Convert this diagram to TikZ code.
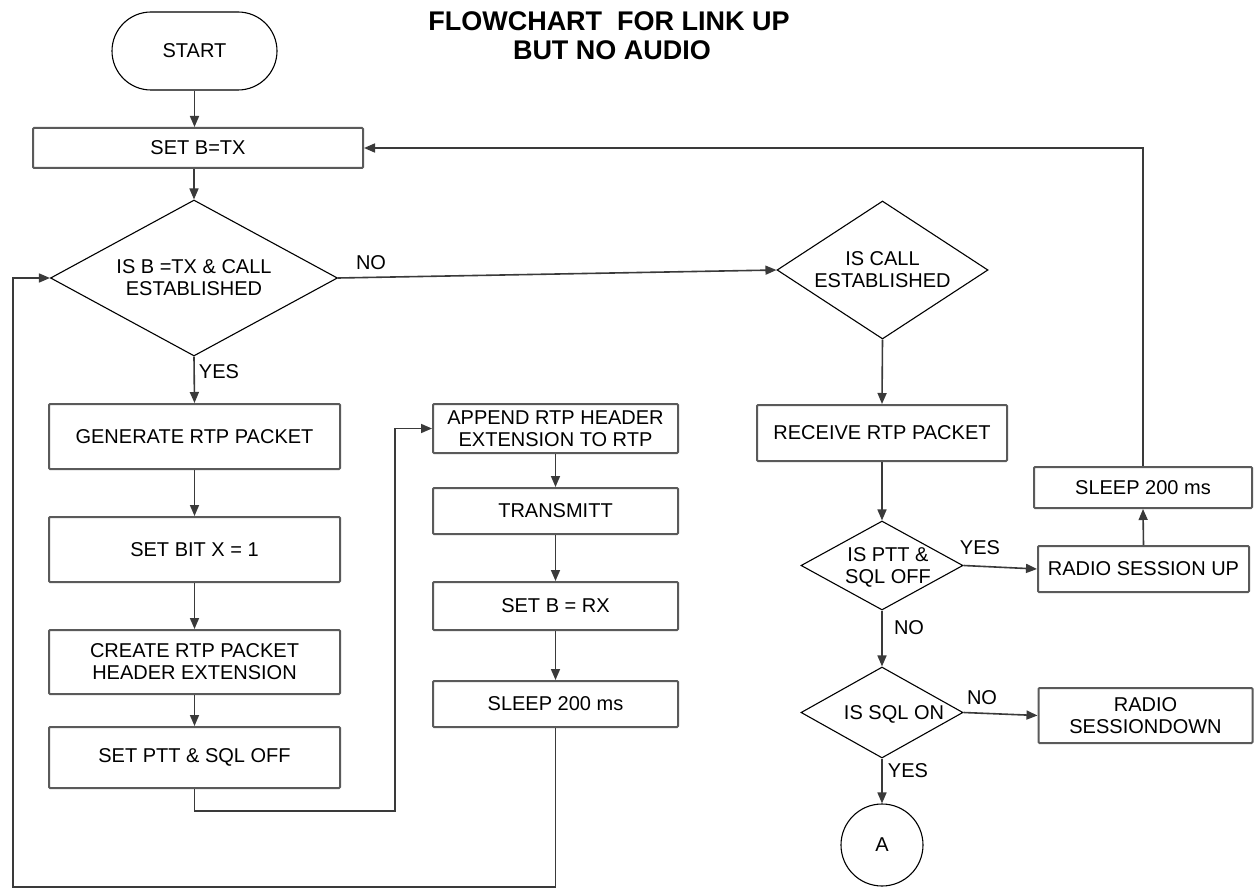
\documentclass[tikz,border=0pt]{standalone}
\usepackage{fontspec}
\setmainfont{Liberation Sans}
\usetikzlibrary{shapes.geometric,shapes.misc,arrows.meta}
\definecolor{boxgray}{HTML}{5A5A5A}
\definecolor{linegray}{HTML}{3A3A3A}
\newcommand\zt[2][0pt]{\smash{\makebox[0pt]{\hspace*{#1}\hspace*{#1}\raisebox{-7.75pt}{\begin{tabular}{@{}c@{}}#2\end{tabular}}}}}
\begin{document}
\begin{tikzpicture}[x=1pt,y=-1pt,
  every node/.style={font=\fontsize{20}{22}\selectfont},
  procbox/.style={draw=boxgray, line width=2pt, rounded corners=1pt, align=center, inner sep=0pt},
  decision/.style={diamond, draw=black, line width=1.1pt, inner sep=0pt},
  terminal/.style={rounded rectangle, draw=black, line width=1.1pt, inner sep=0pt},
  conn/.style={draw=linegray, line width=1.6pt},
  arr/.style={conn, -{Triangle[length=11pt,width=9pt]}},
  lbl/.style={inner sep=0pt},
  titlefont/.style={inner sep=0pt, anchor=base, font=\fontsize{27}{27}\selectfont\bfseries}]
\useasboundingbox (0,0) rectangle (1254,888);
\fill[white] (0,0) rectangle (1254,888);

% title
\node[titlefont] (title1) at (609,30.5) {FLOWCHART\ \ FOR LINK UP};
\node[titlefont] (title2) at (612,60) {BUT NO AUDIO};

% left column
\node[terminal, minimum width=165pt, minimum height=78pt] (start) at (194.5,51) {START};
\node[procbox, minimum width=330pt, minimum height=40pt] (setb) at (198,148) {SET B=TX};
\node[decision, minimum width=287pt, minimum height=156pt] (d1) at (194,278) {\zt{IS B =TX \& CALL\\ESTABLISHED}};
\node[procbox, minimum width=291pt, minimum height=65pt] (gen) at (194.5,436.5) {GENERATE RTP PACKET};
\node[procbox, minimum width=291pt, minimum height=65pt] (setbit) at (194.5,549.5) {SET BIT X = 1};
\node[procbox, minimum width=291pt, minimum height=64pt] (create) at (194.5,662) {CREATE RTP PACKET\\HEADER EXTENSION};
\node[procbox, minimum width=291pt, minimum height=61pt] (setptt) at (194.5,757.5) {SET PTT \& SQL OFF};

% middle column
\node[procbox, minimum width=245pt, minimum height=49pt] (append) at (555.5,428.5) {APPEND RTP HEADER\\EXTENSION TO RTP};
\node[procbox, minimum width=245pt, minimum height=46pt] (transmitt) at (555.5,511) {TRANSMITT};
\node[procbox, minimum width=245pt, minimum height=48pt] (setrx) at (555.5,606) {SET B = RX};
\node[procbox, minimum width=245pt, minimum height=46pt] (sleepa) at (555.5,704) {SLEEP 200 ms};

% right column
\node[decision, minimum width=211pt, minimum height=138pt] (d2) at (882.5,270) {\zt{IS CALL\\ESTABLISHED}};
\node[procbox, minimum width=250pt, minimum height=56pt] (receive) at (882,433) {RECEIVE RTP PACKET};
\node[decision, minimum width=162pt, minimum height=89pt] (d3) at (882,565.5) {\zt[6pt]{IS PTT \&\\SQL OFF}};
\node[procbox, minimum width=211pt, minimum height=46pt] (rsu) at (1143.5,569) {RADIO SESSION UP};
\node[procbox, minimum width=218pt, minimum height=41pt] (sleepb) at (1143,487.5) {SLEEP 200 ms};
\node[decision, minimum width=162pt, minimum height=91pt] (d4) at (882,712.5) {\zt[12pt]{IS SQL ON}};
\node[procbox, minimum width=214pt, minimum height=55pt] (rsd) at (1145.5,715.5) {RADIO\\SESSIONDOWN};
\node[circle, draw=black, line width=1.1pt, minimum size=82pt, inner sep=0pt] (conA) at (882,845) {A};

% junction coordinates
\coordinate (j1) at (395,811);
\coordinate (j2) at (13,887);

% connectors
\draw[arr] (start.south) -- (start.south |- setb.north);
\draw[arr] (d1.north |- setb.south) -- (d1.north);
\draw[arr] (d1.east) -- (d2.west);
\draw[arr] (d1.south) -- (gen.north);
\draw[arr] (gen) -- (setbit);
\draw[arr] (setbit) -- (create);
\draw[arr] (create) -- (setptt);
\draw[arr] (setptt.south) |- (j1) |- (append.west);
\draw[arr] (append) -- (transmitt);
\draw[arr] (transmitt) -- (setrx);
\draw[arr] (setrx) -- (sleepa);
\draw[arr] (sleepa.south) |- (j2) |- (d1.west);
\draw[arr] (d2.south) -- (receive.north);
\draw[arr] (receive.south) -- (d3.north);
\draw[arr] (d3.east) -- (rsu.west);
\draw[arr] (rsu.north) -- (sleepb.south);
\draw[arr] (sleepb.north) |- (setb.east);
\draw[arr] (d3.south) -- (d4.north);
\draw[arr] (d4.east) -- (rsd.west);
\draw[arr] (d4.south) -- (conA.north);

% branch labels
\node[lbl] (no1) at (371,263) {NO};
\node[lbl] (yes1) at (219,372) {YES};
\node[lbl] (yes3) at (980,548) {YES};
\node[lbl] (no3) at (909,628) {NO};
\node[lbl] (no4) at (982,698) {NO};
\node[lbl] (yes4) at (908,771) {YES};
\end{tikzpicture}
\end{document}
